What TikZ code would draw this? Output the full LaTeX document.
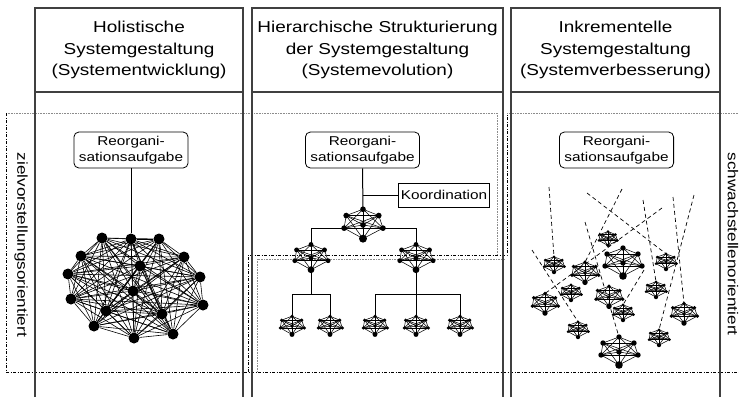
\documentclass[tikz,border=0pt]{standalone}
\usepackage{fontspec}
\setmainfont[FakeStretch=1.2]{Liberation Sans}
\begin{document}
\begin{tikzpicture}[x=1pt,y=-1pt,
  panel/.style={line width=1.3pt,black!75},
  head/.style={align=center,font=\fontsize{15.8}{21.5}\selectfont},
  rbox/.style={draw,line width=0.8pt,rounded corners=5pt,align=center,
    font=\fontsize{12.8}{16.5}\selectfont,minimum height=36pt,inner xsep=5pt},
  sbox/.style={draw,line width=0.8pt,font=\fontsize{12.8}{15}\selectfont,
    minimum height=24pt,inner xsep=2.5pt},
  side/.style={font=\fontsize{14.3}{16}\selectfont,rotate=-90},
  gnode/.style={circle,fill=black,inner sep=0pt,minimum size=11pt},
  gedge/.style={line width=0.6pt},
  cledge/.style={line width=0.55pt},
  link/.style={line width=1pt},
  dline/.style={line width=0.7pt,dash pattern=on 4pt off 3pt},
  region/.style={line width=0.6pt,dash pattern=on 3pt off 1.5pt on 1pt off 1.5pt},
  thin gray/.style={line width=0.5pt,black!45,dash pattern=on 1pt off 0.6pt},
  cl/.pic={
    \foreach \px/\py [count=\k] in {0/-15,-16/-9,15/-9,-18/3,19/3,0/13,0/0}
      \coordinate (-p\k) at (\px,\py);
    \foreach \i in {1,...,6}{
      \pgfmathtruncatemacro\nxt{\i+1}
      \foreach \j in {\nxt,...,7} \draw[cledge] (-p\i) -- (-p\j);
    }
    \foreach \k in {1,2,3,4,5,7} \fill (-p\k) circle[radius=2.7];
    \fill (-p6) circle[radius=3.8];
  }
]
\useasboundingbox (0,0) rectangle (739,397);

% region borders
\draw[thin gray] (6,113) -- (497,113) -- (497,255);
\draw[thin gray] (507,113) -- (739,113);
\draw[region] (6,113) -- (6,372) -- (739,372);
\draw[region] (248,372) -- (248,255) -- (507,255) -- (507,113);
\draw[thin gray] (257,372) -- (257,259) -- (505,259);

% three columns with header rows
\draw[panel] (35,397) -- (35,8) -- (243,8) -- (243,397);
\draw[panel] (35,92) -- (243,92);
\draw[panel] (252,397) -- (252,8) -- (503,8) -- (503,397);
\draw[panel] (252,92) -- (503,92);
\draw[panel] (511,397) -- (511,8) -- (720,8) -- (720,397);
\draw[panel] (511,92) -- (720,92);

\node[head] (h1) at (139,50) {Holistische\\Systemgestaltung\\(Systementwicklung)};
\node[head] (h2) at (377.5,50) {Hierarchische Strukturierung\\der Systemgestaltung\\(Systemevolution)};
\node[head] (h3) at (615.5,50) {Inkrementelle\\Systemgestaltung\\(Systemverbesserung)};

\node[side] (s1) at (21,245) {zielvorstellungsorientiert};
\node[side] (s2) at (733,244) {schwachstellenorientiert};

% holistic design: one fully meshed system
\node[rbox] (b1) at (131,150) {Reorgani-\\sationsaufgabe};
\foreach \n/\x/\y in {1/102/238,2/131/239,3/159/239,4/81/256,5/184/257,
  6/140/266,7/68/274,8/200/277,9/133/291,10/71/299,11/203/305,
  12/106/311,13/162/314,14/94/326,15/173/334,16/134/338}
  \node[gnode] (g\n) at (\x,\y) {};
\foreach \i in {1,...,15}{
  \pgfmathtruncatemacro\nx{\i+1}
  \foreach \j in {\nx,...,16} \draw[gedge] (g\i) -- (g\j);
}
\draw[gedge] (b1.south) -- (g2);

% hierarchical structuring
\node[rbox] (b2) at (362.5,150) {Reorgani-\\sationsaufgabe};
\node[sbox] (k) at (444,195) {Koordination};
\pic[scale=1.05] (c0) at (363,225) {cl};
\pic[scale=0.9] (c1) at (311,258) {cl};
\pic[scale=0.9] (c2) at (416,258) {cl};
\foreach \n/\x in {1/292,2/330,3/375,4/416,5/460}
  \pic[scale=0.65] (a\n) at (\x,326) {cl};
\draw[link] (b2.south) -- (c0-p1);
\coordinate (kj) at (b2.south |- k.west);
\draw[gedge] (kj) -- (k.west);
\draw[link] (c0-p4) -| (c1-p1);
\draw[link] (c0-p5) -| (c2-p1);
\coordinate (j1) at (311,294);
\coordinate (j2) at (416,294);
\draw[link] (c1-p6) -- (j1);
\draw[link] (c2-p6) -- (j2);
\draw[link] (a1-p1) |- (j1);
\draw[link] (a2-p1) |- (j1);
\draw[link] (a3-p1) |- (j2);
\draw[link] (a4-p1) -- (j2);
\draw[link] (a5-p1) |- (j2);

% incremental design: isolated subsystems
\node[rbox] (b3) at (616.5,150) {Reorgani-\\sationsaufgabe};
\foreach \n/\x/\y/\s in {1/608/239/0.5,2/554/265/0.55,3/585/273/0.72,
  4/623/263/1.0,5/666/262/0.55,6/571/293/0.55,7/609/297/0.72,
  8/656/290/0.55,9/545/304/0.7,10/623/313/0.55,11/684/314/0.7,
  12/578/330/0.55,13/659/338/0.55,14/619/352/1.0}
  \pic[scale=\s] (r\n) at (\x,\y) {cl};
\foreach \n/\x/\y/\t in {1/549/187/2,2/587/193/5,3/622/189/3,4/643/200/8,
  5/662/208/9,6/673/197/11,7/694/195/13,8/585/222/14,9/532/250/12,
  10/644/270/10}{
  \coordinate (q\n) at (\x,\y);
  \draw[dline] (q\n) -- (r\t-p1);
}
\end{tikzpicture}
\end{document}
